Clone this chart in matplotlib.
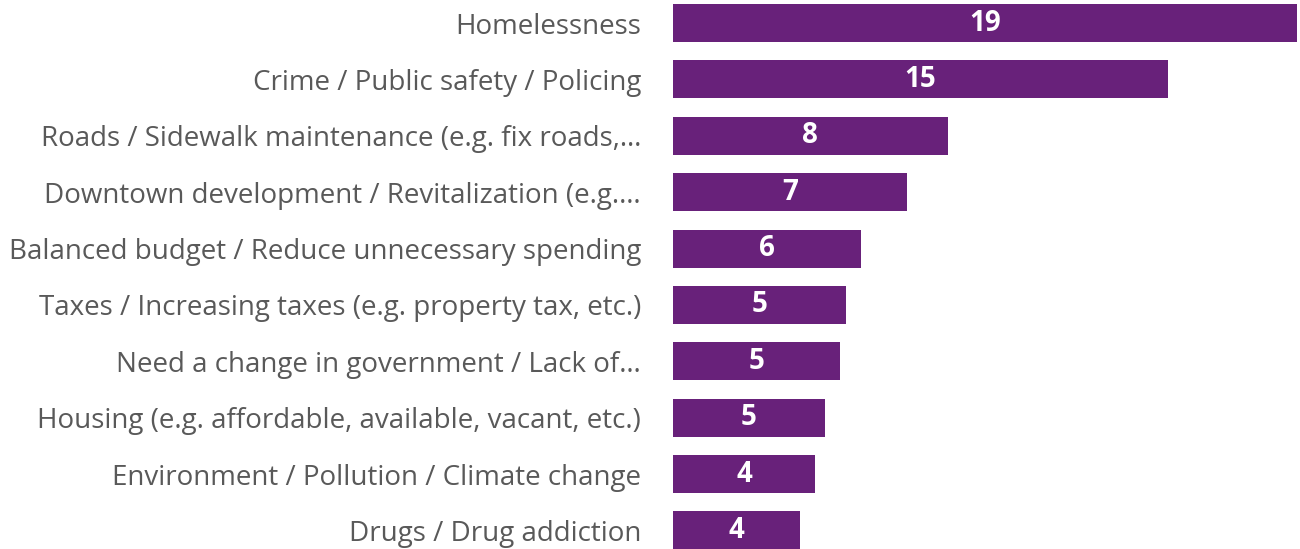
import matplotlib
matplotlib.use("Agg")
import matplotlib.pyplot as plt

categories = [
    "Homelessness",
    "Crime / Public safety / Policing",
    "Roads / Sidewalk maintenance (e.g. fix roads,…",
    "Downtown development / Revitalization (e.g.…",
    "Balanced budget / Reduce unnecessary spending",
    "Taxes / Increasing taxes (e.g. property tax, etc.)",
    "Need a change in government / Lack of…",
    "Housing (e.g. affordable, available, vacant, etc.)",
    "Environment / Pollution / Climate change",
    "Drugs / Drug addiction",
]
values = [19.0, 15.07, 8.37, 7.13, 5.72, 5.27, 5.09, 4.63, 4.32, 3.87]
labels = [str(round(v)) for v in values]

bar_color = "#68217a"
text_color = "#595959"

fig = plt.figure(figsize=(13, 5.49), dpi=100)
ax = fig.add_axes([673 / 1300, 0, 627 / 1300, 1])

y = list(range(len(categories)))
bars = ax.barh(y, values, height=0.674, color=bar_color)

for b, lab in zip(bars, labels):
    ax.text(b.get_width() / 2, b.get_y() + b.get_height() / 2, lab,
            ha="center", va="center", color="white", fontsize=20,
            fontweight="bold", family="Open Sans")

ax.set_xlim(0, 627 / 32.84)
ax.set_ylim(9.33, -0.408)
ax.set_yticks(y)
ax.set_yticklabels(categories, fontsize=20, color=text_color, family="Open Sans")
ax.tick_params(axis="y", length=0, pad=23)
ax.set_xticks([])
for s in ax.spines.values():
    s.set_visible(False)

fig.savefig("out.png", dpi=100)
